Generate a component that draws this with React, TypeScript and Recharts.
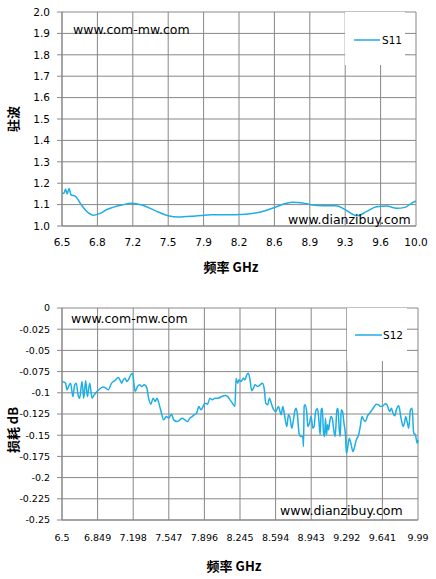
import { CartesianGrid, Label, Legend, Line, LineChart, XAxis, YAxis } from 'recharts';

// VSWR (S11) readings, [GHz, value]
const s11Points: [number, number][] = [
  [6.5, 1.153], [6.52, 1.153], [6.535, 1.173], [6.55, 1.15], [6.57, 1.175], [6.59, 1.145],
  [6.63, 1.14], [6.68, 1.107], [6.73, 1.075], [6.78, 1.056], [6.81, 1.05], [6.87, 1.058],
  [6.95, 1.078], [7.09, 1.098], [7.19, 1.106], [7.29, 1.098], [7.42, 1.072], [7.55, 1.048],
  [7.65, 1.042], [7.82, 1.047], [7.98, 1.053], [8.21, 1.053], [8.45, 1.064], [8.58, 1.083],
  [8.72, 1.106], [8.78, 1.111], [8.88, 1.108], [8.98, 1.098], [9.08, 1.095], [9.21, 1.095],
  [9.29, 1.079], [9.39, 1.051], [9.42, 1.048], [9.51, 1.067], [9.61, 1.09], [9.71, 1.093],
  [9.81, 1.083], [9.89, 1.087], [9.955, 1.106], [10.0, 1.117],
];

// insertion loss (S12) readings, [GHz, dB]
const s12Points: [number, number][] = [
  [6.5, -0.0867], [6.535, -0.0886], [6.548, -0.0965], [6.568, -0.0914], [6.584, -0.0886],
  [6.607, -0.1044], [6.624, -0.0906], [6.64, -0.0886], [6.657, -0.1024], [6.673, -0.1063],
  [6.696, -0.0867], [6.713, -0.1063], [6.732, -0.0858], [6.749, -0.1044], [6.772, -0.0886],
  [6.795, -0.1063], [6.815, -0.1024], [6.838, -0.0992], [6.871, -0.0953], [6.904, -0.0933],
  [6.937, -0.0953], [6.953, -0.0965], [6.986, -0.0886], [7.019, -0.0855], [7.052, -0.082],
  [7.068, -0.0847], [7.085, -0.0886], [7.101, -0.0847], [7.118, -0.0827], [7.135, -0.0867],
  [7.151, -0.0847], [7.174, -0.0788], [7.19, -0.0768], [7.207, -0.0906], [7.217, -0.0985],
  [7.24, -0.0926], [7.26, -0.0906], [7.283, -0.0926], [7.306, -0.0906], [7.332, -0.0945],
  [7.349, -0.1063], [7.372, -0.1134], [7.392, -0.1063], [7.415, -0.1103], [7.431, -0.1063],
  [7.454, -0.1142], [7.471, -0.1221], [7.497, -0.1319], [7.523, -0.128], [7.546, -0.1299],
  [7.573, -0.1252], [7.595, -0.1319], [7.629, -0.1339], [7.655, -0.1319], [7.678, -0.1299],
  [7.704, -0.1319], [7.731, -0.1339], [7.753, -0.1299], [7.776, -0.128], [7.796, -0.126],
  [7.819, -0.124], [7.842, -0.1162], [7.862, -0.1201], [7.878, -0.1174], [7.901, -0.1122],
  [7.927, -0.1134], [7.95, -0.1063], [7.973, -0.1083], [7.999, -0.1063], [8.032, -0.1063],
  [8.065, -0.1044], [8.098, -0.1032], [8.124, -0.1044], [8.147, -0.1083], [8.17, -0.1122],
  [8.196, -0.1162], [8.206, -0.0827], [8.222, -0.0886], [8.235, -0.0847], [8.255, -0.0867],
  [8.278, -0.0827], [8.294, -0.0847], [8.311, -0.0788], [8.327, -0.0768], [8.343, -0.0847],
  [8.36, -0.0977], [8.376, -0.0945], [8.393, -0.0906], [8.419, -0.0926], [8.442, -0.0906],
  [8.465, -0.0886], [8.484, -0.0965], [8.497, -0.1122], [8.517, -0.1142], [8.533, -0.1063],
  [8.556, -0.1142], [8.576, -0.1201], [8.596, -0.1221], [8.622, -0.1162], [8.648, -0.126],
  [8.665, -0.1162], [8.681, -0.126], [8.704, -0.1398], [8.72, -0.126], [8.736, -0.1299],
  [8.752, -0.1417], [8.769, -0.1319], [8.785, -0.1201], [8.795, -0.1181], [8.808, -0.126],
  [8.824, -0.1476], [8.844, -0.1516], [8.861, -0.1516], [8.867, -0.1634], [8.874, -0.1162],
  [8.883, -0.1142], [8.9, -0.124], [8.91, -0.1398], [8.926, -0.1358], [8.942, -0.128],
  [8.959, -0.1417], [8.972, -0.1398], [8.982, -0.126], [8.992, -0.1201], [9.005, -0.1189],
  [9.018, -0.1319], [9.031, -0.1496], [9.041, -0.1201], [9.051, -0.1181], [9.064, -0.1476],
  [9.074, -0.1516], [9.083, -0.1299], [9.093, -0.1496], [9.103, -0.1378], [9.113, -0.1437],
  [9.123, -0.1358], [9.136, -0.128], [9.149, -0.1299], [9.162, -0.1417], [9.178, -0.1516],
  [9.195, -0.1201], [9.205, -0.1181], [9.218, -0.1437], [9.228, -0.1516], [9.237, -0.1201],
  [9.25, -0.1221], [9.264, -0.1358], [9.28, -0.1516], [9.287, -0.1712], [9.3, -0.1653],
  [9.316, -0.1535], [9.332, -0.1594], [9.352, -0.1693], [9.365, -0.1653], [9.385, -0.1555],
  [9.408, -0.1496], [9.424, -0.1398], [9.441, -0.128], [9.457, -0.1319], [9.473, -0.1339],
  [9.496, -0.1272], [9.516, -0.124], [9.539, -0.1201], [9.562, -0.1162], [9.581, -0.1134],
  [9.604, -0.1142], [9.621, -0.1162], [9.647, -0.1154], [9.67, -0.113], [9.686, -0.1142],
  [9.713, -0.1221], [9.729, -0.1181], [9.745, -0.124], [9.762, -0.1272], [9.778, -0.1201],
  [9.801, -0.1154], [9.824, -0.1299], [9.844, -0.1398], [9.857, -0.1358], [9.87, -0.128],
  [9.883, -0.1339], [9.899, -0.1417], [9.916, -0.1201], [9.932, -0.1181], [9.948, -0.1476],
  [9.965, -0.1496], [9.981, -0.1594], [9.99, -0.1555],
];

const topXTicks = [6.5, 6.85, 7.2, 7.55, 7.9, 8.25, 8.6, 8.95, 9.3, 9.65, 10.0];
const topXLabels = ['6.5', '6.8', '7.2', '7.5', '7.9', '8.2', '8.6', '8.9', '9.3', '9.6', '10.0'];
const topYTicks = [1.0, 1.1, 1.2, 1.3, 1.4, 1.5, 1.6, 1.7, 1.8, 1.9, 2.0];

const bottomXTicks = [6.5, 6.849, 7.198, 7.547, 7.896, 8.245, 8.594, 8.943, 9.292, 9.641, 9.99];
const bottomXLabels = ['6.5', '6.849', '7.198', '7.547', '7.896', '8.245', '8.594', '8.943', '9.292', '9.641', '9.99'];
const bottomYTicks = [0, -0.025, -0.05, -0.075, -0.1, -0.125, -0.15, -0.175, -0.2, -0.225, -0.25];

const s11Data = s11Points.map(([f, v]) => ({ f, v }));
const s12Data = s12Points.map(([f, v]) => ({ f, v }));

const GRID = '#878787';
const LINE = '#1eaee6';
const TICK_FONT = '"DejaVu Sans", sans-serif';
const CJK_FONT = '"Noto Sans CJK SC", sans-serif';

const LegendBox = ({ name, lineLeft, lineWidth, lineTop, textLeft }: any) => (
  <div style={{ position: 'relative', width: 60, height: 53, background: '#fff' }}>
    <svg width={lineWidth} height={2} style={{ position: 'absolute', left: lineLeft, top: lineTop - 1 }}>
      <line x1={0} y1={1} x2={lineWidth} y2={1} stroke={LINE} strokeWidth={1.5} />
    </svg>
    <span
      style={{
        position: 'absolute',
        left: textLeft,
        top: lineTop - 7,
        fontFamily: TICK_FONT,
        fontSize: 10.5,
        lineHeight: '14px',
        color: '#000',
      }}
    >
      {name}
    </span>
  </div>
);

const yTitle = (text: string, shift: number) => (props: any) => {
  const vb = props.viewBox;
  const cy = vb.y + vb.height / 2 + shift;
  return (
    <text
      x={12}
      y={cy}
      transform={`rotate(-90 12 ${cy})`}
      textAnchor="middle"
      dominantBaseline="central"
      fontFamily={CJK_FONT}
      fontWeight="bold"
      fontSize={13}
      fill="#000"
    >
      {text}
    </text>
  );
};

const xTitle = (dx: number, dy: number) => (props: any) => {
  const vb = props.viewBox;
  return (
    <text
      x={vb.x + vb.width / 2 + dx}
      y={vb.y + dy}
      textAnchor="middle"
      dominantBaseline="central"
      fontFamily={CJK_FONT}
      fontWeight="bold"
      fontSize={13}
      fill="#000"
    >
      频率 GHz
    </text>
  );
};

const watermark = (left: number, top: number, text: string) => (
  <div
    style={{
      position: 'absolute',
      left,
      top,
      fontFamily: TICK_FONT,
      fontSize: 12.5,
      lineHeight: '14px',
      color: '#000',
      pointerEvents: 'none',
    }}
  >
    {text}
  </div>
);

export default function App() {
  return (
    <div style={{ position: 'absolute', left: 0, top: 0, width: 436, height: 579, background: '#fff' }}>
      <div style={{ position: 'absolute', left: 0, top: 0, width: 436, height: 290 }}>
        <LineChart width={436} height={290} data={s11Data} margin={{ top: 12, right: 20, bottom: 0, left: 0 }}>
          <CartesianGrid stroke={GRID} />
          <XAxis
            dataKey="f"
            type="number"
            domain={[6.5, 10]}
            ticks={topXTicks}
            tickFormatter={(_v, i) => topXLabels[i]}
            height={64}
            tickLine={false}
            tickSize={6}
            tickMargin={7}
            axisLine={{ stroke: GRID }}
            tick={{ fill: '#000', fontSize: 10.5, fontFamily: TICK_FONT }}
            interval={0}
          >
            <Label content={xTitle(-8, 40)} />
          </XAxis>
          <YAxis
            type="number"
            domain={[1, 2]}
            ticks={topYTicks}
            tickFormatter={(v) => v.toFixed(1)}
            width={62}
            tickSize={5}
            tickMargin={7}
            tickLine={{ stroke: GRID }}
            axisLine={{ stroke: GRID }}
            tick={{ fill: '#000', fontSize: 10.5, fontFamily: TICK_FONT }}
            interval={0}
          >
            <Label content={yTitle('驻波', 0)} />
          </YAxis>
          <Legend
            layout="horizontal"
            verticalAlign="middle"
            align="center"
            width={60}
            height={53}
            wrapperStyle={{ left: 345, top: 12, width: 60, height: 53 }}
            content={() => <LegendBox name="S11" lineLeft={9} lineWidth={26} lineTop={28} textLeft={37} />}
          />
          <Line
            type="monotone"
            dataKey="v"
            name="S11"
            stroke={LINE}
            strokeWidth={1.5}
            dot={false}
            activeDot={false}
            isAnimationActive={false}
          />
        </LineChart>
        {watermark(73, 23, 'www.com-mw.com')}
        {watermark(288, 213, 'www.dianzibuy.com')}
      </div>

      <div style={{ position: 'absolute', left: 0, top: 290, width: 436, height: 289 }}>
        <LineChart width={436} height={289} data={s12Data} margin={{ top: 18, right: 18, bottom: 0, left: 0 }}>
          <CartesianGrid stroke={GRID} />
          <XAxis
            dataKey="f"
            type="number"
            domain={[6.5, 9.99]}
            ticks={bottomXTicks}
            tickFormatter={(_v, i) => bottomXLabels[i]}
            height={59}
            tickLine={false}
            tickSize={6}
            tickMargin={8}
            axisLine={{ stroke: GRID }}
            tick={{ fill: '#000', fontSize: 9.5, fontFamily: TICK_FONT }}
            interval={0}
          >
            <Label content={xTitle(-6, 45)} />
          </XAxis>
          <YAxis
            type="number"
            domain={[-0.25, 0]}
            ticks={bottomYTicks}
            width={62}
            tickSize={5}
            tickMargin={7}
            tickLine={{ stroke: GRID }}
            axisLine={{ stroke: GRID }}
            tick={{ fill: '#000', fontSize: 9.5, fontFamily: TICK_FONT }}
            interval={0}
          >
            <Label content={yTitle('损耗 dB', 16)} />
          </YAxis>
          <Legend
            layout="horizontal"
            verticalAlign="middle"
            align="center"
            width={60}
            height={52}
            wrapperStyle={{ left: 347, top: 18, width: 60, height: 52 }}
            content={() => <LegendBox name="S12" lineLeft={8} lineWidth={27} lineTop={27} textLeft={36} />}
          />
          <Line
            type="monotone"
            dataKey="v"
            name="S12"
            stroke={LINE}
            strokeWidth={1.5}
            dot={false}
            activeDot={false}
            isAnimationActive={false}
          />
        </LineChart>
        {watermark(71, 22, 'www.com-mw.com')}
        {watermark(280, 214, 'www.dianzibuy.com')}
      </div>
    </div>
  );
}
